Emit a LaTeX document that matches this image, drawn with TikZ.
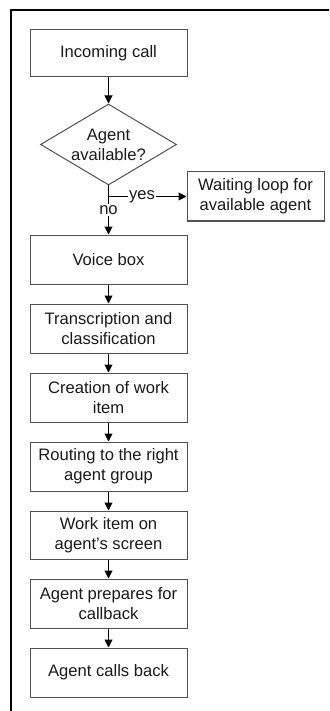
\documentclass[tikz,border=0pt]{standalone}
\usepackage{fontspec}
\setmainfont{Liberation Sans}
\usetikzlibrary{arrows.meta,shapes.geometric}
\definecolor{boxline}{HTML}{505050}
\definecolor{ink}{HTML}{1A1A1A}
\tikzset{
  stepbox/.style={draw=boxline, line width=1pt, minimum width=157pt, minimum height=49pt,
    inner sep=1pt, align=center, text=ink, font=\fontsize{16.6}{20}\selectfont},
  conn/.style={draw=black, line width=1pt, -{Triangle[length=8pt,width=8pt]}},
  lbl/.style={fill=white, inner sep=1pt, text=ink, font=\fontsize{16.6}{20}\selectfont},
}
\begin{document}
\begin{tikzpicture}[x=1pt,y=-1pt]
\useasboundingbox (0,0) rectangle (329,711);
\begin{scope}
\clip (0,0) rectangle (329,711);
\draw[line width=2pt] (11,730) -- (11,10) -- (340,10);
\end{scope}
\node[stepbox, minimum height=47pt] (call) at (108.5,53.5) {Incoming call};
\node[draw=boxline, line width=1pt, shape=diamond, minimum width=136pt, minimum height=81pt, inner sep=0pt,
  label={[align=center, text=ink, font=\fontsize{16.6}{20}\selectfont]center:Agent\\available?}] (dec) at (108.5,144.5) {};
\node[stepbox, minimum width=137pt] (wait) at (255.5,196.5) {Waiting loop for\\available agent};
\node[stepbox] (voice) at (108.5,259.5) {Voice box};
\node[stepbox] (trans) at (108.5,328.5) {Transcription and\\classification};
\node[stepbox] (create) at (108.5,397.5) {Creation of work\\item};
\node[stepbox] (route) at (108.5,466.5) {Routing to the right\\agent group};
\node[stepbox, minimum height=48pt] (screen) at (108.5,535) {Work item on\\agent’s screen};
\node[stepbox] (prep) at (108.5,603.5) {Agent prepares for\\callback};
\node[stepbox] (back) at (108.5,672.5) {Agent calls back};
\coordinate (yb) at (dec.south |- wait.west);
\draw[conn] (call) -- (dec);
\draw[conn] (dec.south) -- node[lbl, pos=0.5] {no} (voice.north);
\draw[conn] (yb) -- node[lbl, pos=0.43] {yes} (wait.west);
\draw[conn] (voice) -- (trans);
\draw[conn] (trans) -- (create);
\draw[conn] (create) -- (route);
\draw[conn] (route) -- (screen);
\draw[conn] (screen) -- (prep);
\draw[conn] (prep) -- (back);
\end{tikzpicture}
\end{document}
